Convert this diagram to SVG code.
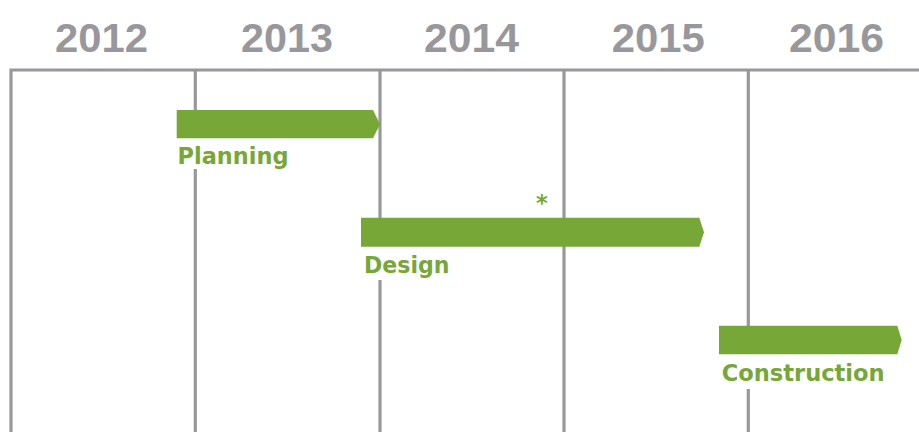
<svg xmlns="http://www.w3.org/2000/svg" width="919" height="432" viewBox="0 0 919 432">
  <style>
    .grid { stroke: #98989c; stroke-width: 3.2; fill: none; }
    .year { font-family: "Liberation Sans", Arial, sans-serif; font-weight: bold; font-size: 40px; fill: #98989c; text-anchor: middle; }
    .bar { fill: #77a736; }
    .label { font-family: "DejaVu Sans", sans-serif; font-weight: bold; font-size: 22.5px; fill: #77a736; }
    .mask { fill: #ffffff; }
  </style>

  <!-- timeline grid -->
  <g id="grid">
    <path class="grid" d="M11,432 V70 H919"/>
    <line class="grid" x1="195.3" y1="70" x2="195.3" y2="432"/>
    <line class="grid" x1="380" y1="70" x2="380" y2="432"/>
    <line class="grid" x1="564" y1="70" x2="564" y2="432"/>
    <line class="grid" x1="748.3" y1="70" x2="748.3" y2="432"/>
  </g>

  <!-- year headings -->
  <g id="years">
    <text class="year" x="101.5" y="52" textLength="93" lengthAdjust="spacingAndGlyphs">2012</text>
    <text class="year" x="287" y="52" textLength="92" lengthAdjust="spacingAndGlyphs">2013</text>
    <text class="year" x="471.5" y="52" textLength="95" lengthAdjust="spacingAndGlyphs">2014</text>
    <text class="year" x="658.3" y="52" textLength="93" lengthAdjust="spacingAndGlyphs">2015</text>
    <text class="year" x="836.5" y="52" textLength="95" lengthAdjust="spacingAndGlyphs">2016</text>
  </g>

  <!-- phase bars -->
  <g id="planning">
    <rect class="mask" x="176" y="138" width="116" height="31"/>
    <path class="bar" d="M176.7,110 H373 L380,124.2 L373,138.3 H176.7 Z"/>
    <text class="label" x="177.5" y="163.5" textLength="111" lengthAdjust="spacingAndGlyphs">Planning</text>
  </g>

  <g id="design">
    <rect class="mask" x="361" y="246" width="92" height="34"/>
    <path class="bar" d="M361,217.7 H699.3 L704,232.2 L699.3,246.7 H361 Z"/>
    <text class="label" x="364" y="272.7" textLength="85.5" lengthAdjust="spacingAndGlyphs">Design</text>
    <text class="label" x="542" y="211" text-anchor="middle" font-size="36">*</text>
  </g>

  <g id="construction">
    <rect class="mask" x="719" y="354" width="168" height="35"/>
    <path class="bar" d="M719,325.7 H897.3 L901.7,340 L897.3,354.3 H719 Z"/>
    <text class="label" x="721.7" y="380.7" textLength="163" lengthAdjust="spacingAndGlyphs">Construction</text>
  </g>
</svg>
